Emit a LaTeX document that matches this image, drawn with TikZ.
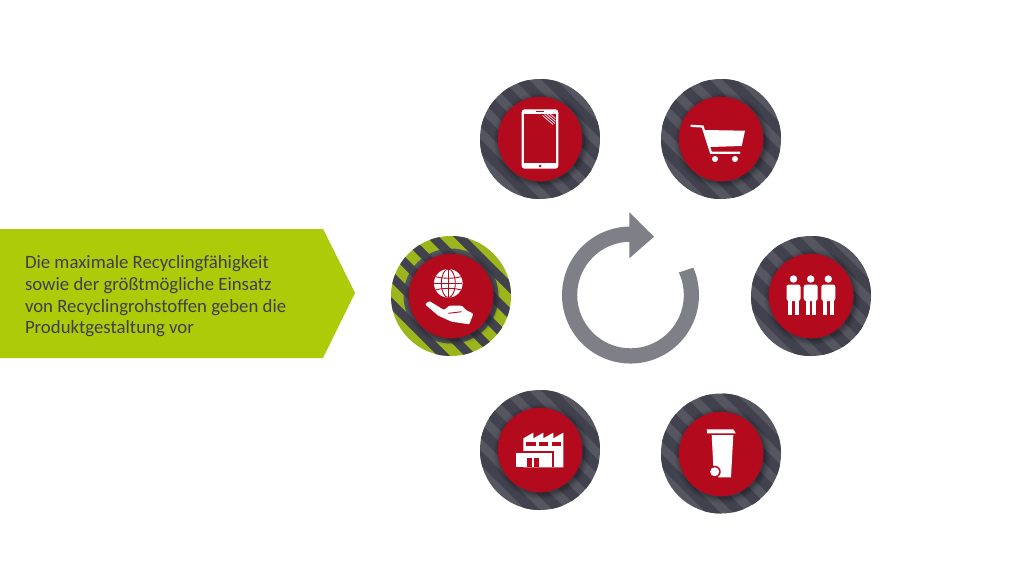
\documentclass[tikz,border=0pt]{standalone}
\usepackage{fontspec}
\setmainfont{Carlito}
\definecolor{bannergreen}{HTML}{AECB0A}
\definecolor{ringgreen}{HTML}{9DB51C}
\definecolor{stripedark}{HTML}{41424E}
\definecolor{stripelight}{HTML}{555660}
\definecolor{diskred}{HTML}{B40A1E}
\definecolor{arrowgrey}{HTML}{7F7F87}
\definecolor{textdark}{HTML}{3E3F4C}
\tikzset{
  icon/.style={fill=white,draw=none},
  cut/.style={fill=diskred,draw=none},
  bannertext/.style={anchor=base west,text=textdark,font=\fontsize{18.8}{20}\selectfont,inner sep=0pt,outer sep=0pt},
}
% cx, cy, base colour, stripe width
\newcommand{\stripeddisk}[4]{%
  \begin{scope}
    \clip (#1,#2) circle (60);
    \fill[#3] (#1-61,#2-61) rectangle (#1+61,#2+61);
    \fill[stripelight] (#1,#2) circle (47.5);
    \foreach \d in {-5,-4,...,5}{
      \draw[stripedark,line width=#4] (#1-70+\d*27+14,#2-70) -- (#1+70+\d*27+14,#2+70);
    }
  \end{scope}
}
% cx, cy
\newcommand{\reddisk}[2]{%
  \foreach \r/\o in {48/.05,46.5/.07,45/.09,43.5/.12}{
    \fill[black,opacity=\o] (#1+1.5,#2+1.5) circle (\r);
  }
  \fill[diskred] (#1,#2) circle (42.3);
}
\newcommand{\person}[1]{%
  \fill[icon] (#1,279) circle (3.7);
  \fill[icon,rounded corners=2.5] (#1-7,284.5) rectangle (#1+7,301);
  \fill[icon] (#1-5.2,299) rectangle (#1-1.2,314.5);
  \fill[icon] (#1+1.2,299) rectangle (#1+5.2,314.5);
}
\begin{document}
\begin{tikzpicture}[x=1pt,y=-1pt]
\useasboundingbox (0,0) rectangle (1024,576);
\fill[white] (0,0) rectangle (1024,576);
% banner
\fill[bannergreen] (0,229) -- (323,229) -- (355,293) -- (323,358) -- (0,358) -- cycle;
\node[bannertext] (l1) at (25,268) {Die maximale Recyclingfähigkeit};
\node[bannertext] (l2) at (25,290) {sowie der größtmögliche Einsatz};
\node[bannertext] (l3) at (25,312) {von Recyclingrohstoffen geben die};
\node[bannertext] (l4) at (25,333.5) {Produktgestaltung vor};
% circles
\stripeddisk{540}{139}{stripelight}{10}\reddisk{540}{139}
\stripeddisk{721}{139}{stripelight}{10}\reddisk{721}{139}
\stripeddisk{811}{296}{stripelight}{10}\reddisk{811}{296}
\stripeddisk{540}{450}{stripelight}{10}\reddisk{540}{450}
\stripeddisk{721}{453.5}{stripelight}{10}\reddisk{721}{454}
\stripeddisk{451}{296}{ringgreen}{8.5}\reddisk{451}{296}
% centre arrow
\fill[arrowgrey] (693.3,267.7) arc[start angle=-23.5,end angle=270,radius=68.5]
  -- (629.3,226.5) -- (629.3,212.3) -- (654,236.7) -- (629.3,258.3) -- (629.3,241.7) -- (630.5,241.7)
  arc[start angle=270,end angle=-25,radius=53.3] -- cycle;
% phone
\fill[icon,rounded corners=3] (521.7,109.3) rectangle (558.3,168.7);
\fill[cut] (524.3,114.3) rectangle (555.7,162.7);
\fill[cut] (536,110.8) rectangle (544,111.8);
\fill[cut] (540,166) circle (1.5);
\begin{scope}
  \clip (524.3,114.3) rectangle (555.7,162.7);
  \foreach \s in {0,1,2,3}{
    \draw[white,line width=.7] (542.5+\s*2,115.5-\s*1) -- (553+\s*2,124.5-\s*1);
  }
\end{scope}
% cart
\draw[white,line width=2.2] (690.7,125.8) -- (702.6,126.5) -- (711,152.8) -- (740,152.8);
\fill[icon] (704.5,130) -- (745,130.7) -- (741.7,146) -- (709.5,147) -- cycle;
\fill[icon] (715,159) circle (3);
\fill[icon] (735,159) circle (3);
% people
\person{793.5}\person{810.7}\person{828.3}
% factory
\fill[icon] (523.3,438.3) -- (533.3,432.7) -- (533.3,438.3) -- (543.3,432.7) -- (543.3,438.3) -- (553.3,432.7)
  -- (553.3,438.3) -- (563.3,432.7) -- (563.3,467.3) -- (523.3,467.3) -- cycle;
\fill[cut] (526,441.7) rectangle (535.7,445.7);
\fill[cut] (539,441.7) rectangle (548,445.7);
\fill[cut] (551.7,441.7) rectangle (560.7,445.7);
\fill[cut] (522.5,450.7) rectangle (554,452.7);
\fill[cut] (552,451) rectangle (554,467.3);
\fill[icon] (516,452.7) rectangle (551.7,467.3);
\fill[cut] (527.3,458.3) rectangle (532.3,467.3);
\fill[cut] (534,458.3) rectangle (539.3,467.3);
% bin
\fill[icon] (706.7,429.3) -- (733.3,429.3) -- (735.7,433.3) -- (707.3,433.3) -- cycle;
\fill[icon] (711.7,435) -- (733.3,435) -- (731,477.3) -- (718,477.3) -- (713.3,466) -- cycle;
\fill[cut] (714.7,471.7) circle (6);
\fill[icon] (714.7,471.7) circle (4.5);
% globe
\fill[icon] (448.3,283.3) circle (14.3);
\begin{scope}
  \clip (448.3,283.3) circle (14.3);
  \draw[diskred,line width=.9] (448.3,283.3) ellipse [x radius=7,y radius=14.3];
  \draw[diskred,line width=.9] (448.3,269) -- (448.3,297.6);
  \draw[diskred,line width=.9] (434,283.3) -- (462.6,283.3);
  \draw[diskred,line width=.9] (434,276) .. controls (441,279) and (456,279) .. (462.6,276);
  \draw[diskred,line width=.9] (434,290.6) .. controls (441,287.6) and (456,287.6) .. (462.6,290.6);
\end{scope}
% hand
\fill[icon,rounded corners=1] (425,304.3) -- (429.3,301) -- (444,310) -- (449.3,305.7) -- (461.7,305.7) -- (466,310)
  -- (473.3,313.7) -- (469.3,324.3) -- (451.7,321.7) -- (438.3,315.7) -- cycle;
\draw[diskred,line width=.9] (448.3,313.3) -- (461.7,311.7);
\end{tikzpicture}
\end{document}
